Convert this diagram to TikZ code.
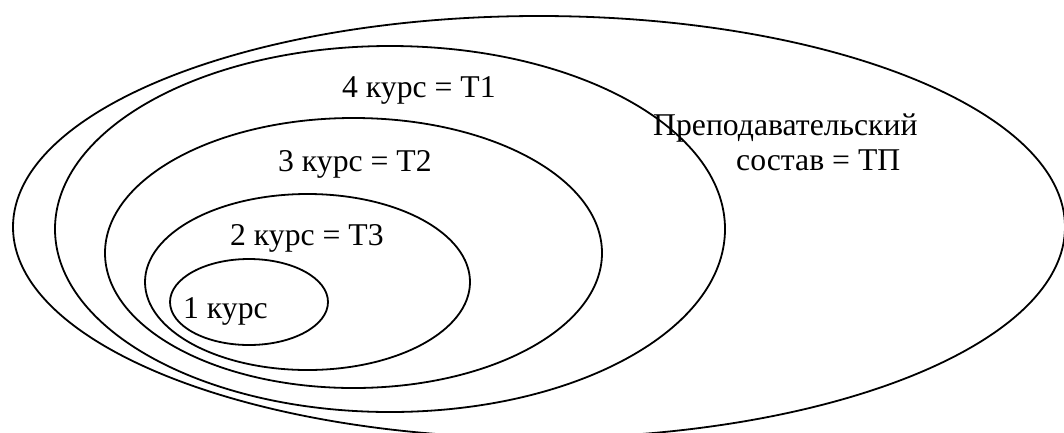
\documentclass[tikz,border=0pt]{standalone}
\usepackage{fontspec}
\setmainfont{Liberation Serif}
\newfontfamily\tnrfont{Liberation Serif}
\usetikzlibrary{shapes.geometric}
\begin{document}
\begin{tikzpicture}[x=1pt,y=-1pt,
  ring/.style={draw, ellipse, line width=1.8pt, inner sep=0pt, outer sep=0pt},
  lbl/.style={anchor=base west, inner sep=0pt, font=\tnrfont\fontsize{31.7}{38}\selectfont}]
\useasboundingbox (0,0) rectangle (1064,432);
\clip (0,0) rectangle (1064,432);
\node[ring, minimum width=1052pt, minimum height=422pt] (e1) at (539,227) {};
\node[ring, minimum width=670pt, minimum height=366pt] (e2) at (390,229) {};
\node[ring, minimum width=497pt, minimum height=270pt] (e3) at (353.5,253) {};
\node[ring, minimum width=325pt, minimum height=176pt] (e4) at (307.5,282) {};
\node[ring, minimum width=158pt, minimum height=86pt] (e5) at (249,302) {};
\node[lbl] (l4) at (342,97) {4 курс = Т1};
\node[lbl] (l3) at (278,171) {3 курс = Т2};
\node[lbl] (l2) at (230,245) {2 курс = Т3};
\node[lbl] (l1) at (183,318) {1 курс};
\node[lbl] (tp1) at (653,135) {Преподавательский};
\node[lbl] (tp2) at (736,170) {состав = ТП};
\end{tikzpicture}
\end{document}
